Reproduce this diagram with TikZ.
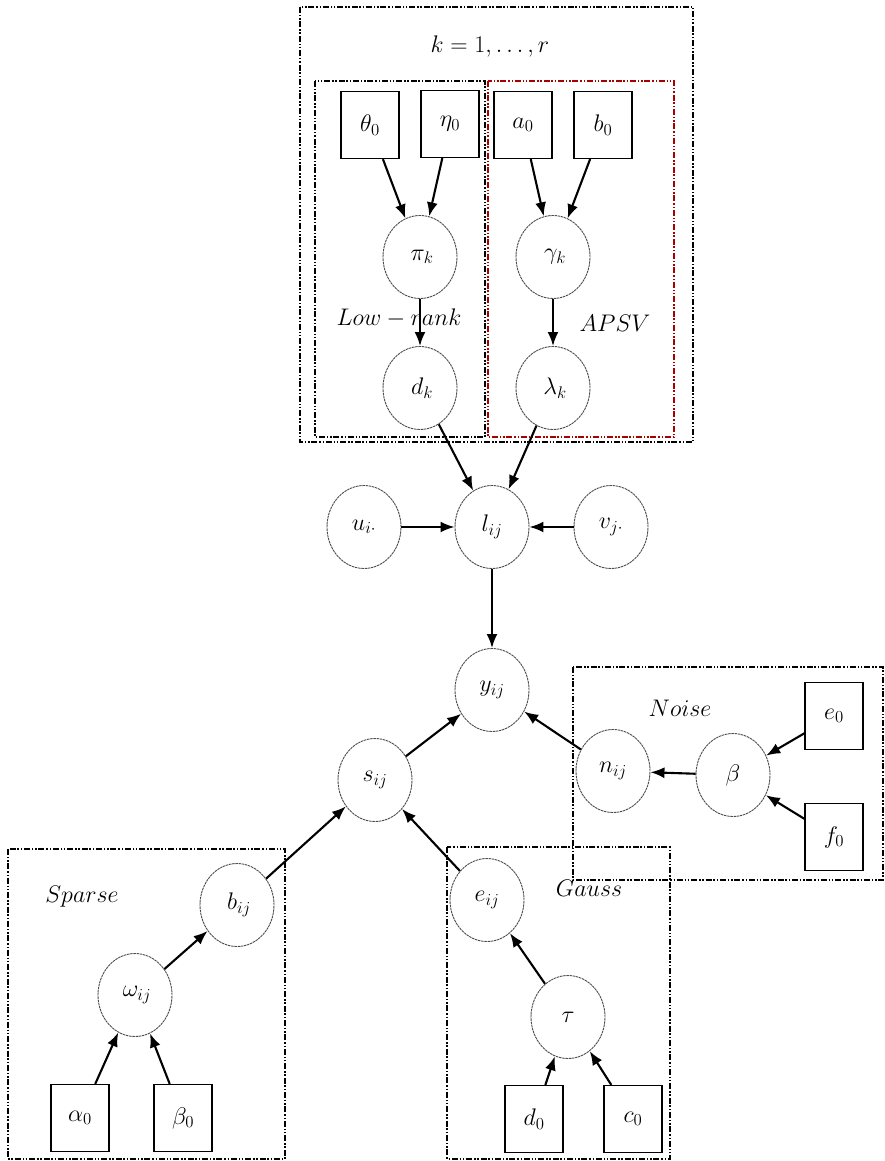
\RequirePackage{fix-cm}
\documentclass[tikz,border=0pt]{standalone}
\usetikzlibrary{shapes.geometric,arrows.meta}
\begin{document}
\begin{tikzpicture}[x=1pt,y=-1pt,
  font=\fontsize{24}{28}\selectfont,
  rv/.style={ellipse,draw=black!70,line width=0.9pt,dash pattern=on 2.5pt off 0.7pt,minimum width=74pt,minimum height=83pt,inner sep=0pt},
  hyper/.style={rectangle,draw=black,line width=1.2pt,minimum width=58pt,minimum height=67pt,inner sep=0pt},
  plate/.style={draw=black,line width=2.6pt,dash pattern=on 6pt off 1.8pt on 1.5pt off 1.8pt on 1.5pt off 1.8pt},
  redplate/.style={draw=red!65!black,line width=1.6pt,dash pattern=on 6pt off 1.8pt on 1.5pt off 1.8pt on 1.5pt off 1.8pt},
  arr/.style={-{Latex[length=14pt,width=11pt]},line width=2.1pt},
  lbl/.style={inner sep=0pt}]
\useasboundingbox (0,0) rectangle (885,1161);
% plates
\draw[plate] (300,7) rectangle (693,442);
\draw[plate] (315,81) rectangle (485,437);
\draw[redplate] (488,81) rectangle (674,437);
\draw[plate] (573,667) rectangle (883,880);
\draw[plate] (8,849) rectangle (285,1159);
\draw[plate] (447,847) rectangle (670,1159);
% labels
\node[lbl] (klbl) at (490,47) {$k=1,\ldots,r$};
\node[lbl] (lrlbl) at (399,318) {$Low-rank$};
\node[lbl] (apsvlbl) at (615,323) {$APSV$};
\node[lbl] (noiselbl) at (680,708) {$Noise$};
\node[lbl] (sparselbl) at (82,897) {$Sparse$};
\node[lbl] (gausslbl) at (589,888) {$Gauss$};
% hyperparameters
\node[hyper] (theta0) at (370,125) {$\theta_0$};
\node[hyper] (eta0) at (450,124) {$\eta_0$};
\node[hyper] (a0) at (523,125) {$a_0$};
\node[hyper] (b0) at (603,125) {$b_0$};
\node[hyper] (e0) at (834,716) {$e_0$};
\node[hyper] (f0) at (834,837) {$f_0$};
\node[hyper] (alpha0) at (80,1118) {$\alpha_0$};
\node[hyper] (beta0) at (183,1118) {$\beta_0$};
\node[hyper] (d0) at (534,1119) {$d_0$};
\node[hyper] (c0) at (633,1119) {$c_0$};
% random variables
\node[rv] (pik) at (420,257) {\,$\pi_k$};
\node[rv] (gammak) at (553,257) {\,$\gamma_k$};
\node[rv] (dk) at (420,388) {\,$d_k$};
\node[rv] (lambdak) at (553,388) {\,$\lambda_k$};
\node[rv] (ui) at (364,527) {$u_{i\cdot}$};
\node[rv] (lij) at (492,527) {$l_{ij}$};
\node[rv] (vj) at (611,527) {$v_{j\cdot}$};
\node[rv] (yij) at (492,690) {$y_{ij}$};
\node[rv] (sij) at (375,780) {$s_{ij}$};
\node[rv] (nij) at (613,771) {$n_{ij}$};
\node[rv] (beta) at (733,775) {$\beta$};
\node[rv] (bij) at (237,905) {\,$b_{ij}$};
\node[rv] (omega) at (135,995) {\,$\omega_{ij}$};
\node[rv] (eij) at (487,900) {$e_{ij}$};
\node[rv] (tau) at (568,1017) {$\tau$};
% edges
\draw[arr] (theta0) -- (pik);
\draw[arr] (eta0) -- (pik);
\draw[arr] (a0) -- (gammak);
\draw[arr] (b0) -- (gammak);
\draw[arr] (pik) -- (dk);
\draw[arr] (gammak) -- (lambdak);
\draw[arr] (dk) -- (lij);
\draw[arr] (lambdak) -- (lij);
\draw[arr] (ui) -- (lij);
\draw[arr] (vj) -- (lij);
\draw[arr] (lij) -- (yij);
\draw[arr] (sij) -- (yij);
\draw[arr] (nij) -- (yij);
\draw[arr] (beta) -- (nij);
\draw[arr] (e0) -- (beta);
\draw[arr] (f0) -- (beta);
\draw[arr] (bij) -- (sij);
\draw[arr] (eij) -- (sij);
\draw[arr] (omega) -- (bij);
\draw[arr] (alpha0) -- (omega);
\draw[arr] (beta0) -- (omega);
\draw[arr] (tau) -- (eij);
\draw[arr] (d0) -- (tau);
\draw[arr] (c0) -- (tau);
\end{tikzpicture}
\end{document}
